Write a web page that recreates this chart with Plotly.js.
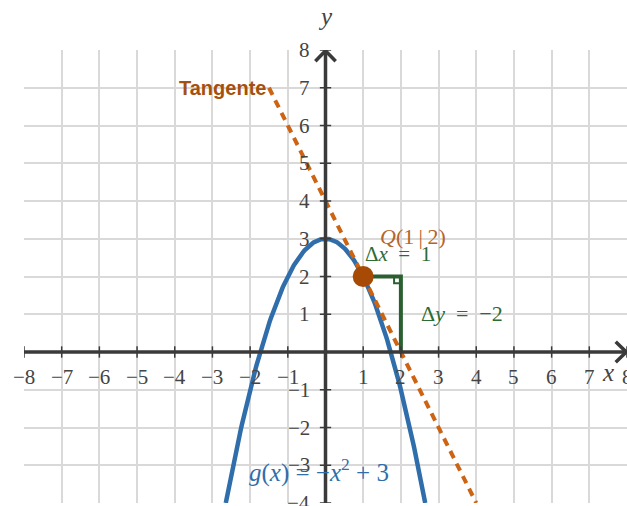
<!DOCTYPE html>
<html><head><meta charset="utf-8">
<script src="https://cdn.plot.ly/plotly-3.0.1.min.js"></script>
<style>body{margin:0;background:#fff}#c{width:627px;height:506px}</style>
</head><body><div id="c"></div>
<script>
// Data
const xTicks = [-8,-7,-6,-5,-4,-3,-2,-1,1,2,3,4,5,6,7,8];
const yTicks = [-4,-3,-2,-1,1,2,3,4,5,6,7,8];
const parabolaX = [];
const parabolaY = [];
// g(x) = -x^2 + 3 sampled on its drawn domain (function curve, not data series)
const gA = -1, gC = 3, gXmin = -Math.sqrt(7), gXmax = Math.sqrt(7);
for (let i = 0; i <= 200; i++) { const x = gXmin + (gXmax - gXmin) * i / 200; parabolaX.push(x); parabolaY.push(gA*x*x + gC); }
const tangentX = [-1.5, 4];
const tangentY = [7, -4];
const pointQ = {x: [1], y: [2]};
const triX = [1, 2, 2];
const triY = [2, 2, 0];

const serif = "Liberation Serif, DejaVu Serif, serif";
const tickCol = "#444";

const traces = [
  {x: parabolaX, y: parabolaY, mode: 'lines', line: {color: '#2f6eab', width: 4.5}, hoverinfo: 'skip'},
  {x: tangentX, y: tangentY, mode: 'lines', line: {color: '#cc6414', width: 4, dash: '8px,6px'}, hoverinfo: 'skip'},
  {x: triX, y: triY, mode: 'lines', line: {color: '#2b5f30', width: 4}, hoverinfo: 'skip'},
  {x: pointQ.x, y: pointQ.y, mode: 'markers', marker: {color: '#a64a05', size: 21}, hoverinfo: 'skip'}
];

const ann = [];
xTicks.forEach(v => ann.push({x: v, y: 0, xref: 'x', yref: 'y', text: v < 0 ? '\u2212' + (-v) : String(v),
  showarrow: false, yshift: -25, font: {family: serif, size: 21, color: tickCol}}));
yTicks.forEach(v => ann.push({x: 0, y: v, xref: 'x', yref: 'y', text: v < 0 ? '\u2212' + (-v) : String(v),
  showarrow: false, xanchor: 'right', xshift: -14, font: {family: serif, size: 21, color: tickCol}}));
ann.push({x: 7.5, y: 0, text: '<i>x</i>', showarrow: false, yshift: -20, font: {family: serif, size: 25, color: '#444'}});
ann.push({x: 0, y: 8, text: '<i>y</i>', showarrow: false, yshift: 34, font: {family: serif, size: 25, color: '#444'}});
ann.push({x: -1.53, y: 7, text: '<b>Tangente</b>', showarrow: false, xanchor: 'right', font: {family: 'Liberation Sans, Arial, sans-serif', size: 20, color: '#a5500f'}});
ann.push({x: 2.32, y: 3.07, text: '<i>Q</i>(1\u2009|\u20092)', showarrow: false, font: {family: serif, size: 22, color: '#b5652a'}});
ann.push({x: 1.92, y: 2.6, text: '\u0394<i>x</i>\u2002=\u20021', showarrow: false, font: {family: serif, size: 21, color: '#2b6b34'}});
ann.push({x: 3.62, y: 1.03, text: '\u0394<i>y</i>\u2002=\u2002\u22122', showarrow: false, font: {family: serif, size: 22, color: '#2b6b34'}});
ann.push({x: -0.18, y: -3.13, text: '<i>g</i>(<i>x</i>) = \u2212<i>x</i><sup>2</sup> + 3', showarrow: false, font: {family: serif, size: 25, color: '#2f6eab'}});

const shapes = [
  {type: 'line', xref: 'x', yref: 'y', x0: -8, y0: 0, x1: 8, y1: 0, line: {color: '#3a3a3a', width: 3.5}},
  {type: 'line', xref: 'x', yref: 'y', x0: 0, y0: -4, x1: 0, y1: 8, line: {color: '#3a3a3a', width: 3.5}},
  {type: 'path', xref: 'x', yref: 'y', path: 'M -0.27,7.7 L 0,7.98 L 0.27,7.7', line: {color: '#3a3a3a', width: 3.5}},
  {type: 'path', xref: 'x', yref: 'y', path: 'M 7.7,0.27 L 7.98,0 L 7.7,-0.27', line: {color: '#3a3a3a', width: 3.5}},
  {type: 'path', xref: 'x', yref: 'y', path: 'M 1.82,2 L 1.82,1.82 L 2,1.82', line: {color: '#2b5f30', width: 2}}
];
yTicks.forEach(v => shapes.push({type: 'line', xref: 'x', yref: 'y', x0: -0.15, x1: 0.15, y0: v, y1: v, line: {color: '#3a3a3a', width: 1.5}}));
xTicks.forEach(v => shapes.push({type: 'line', xref: 'x', yref: 'y', x0: v, x1: v, y0: -0.15, y1: 0.15, line: {color: '#3a3a3a', width: 1.5}}));

const layout = {
  width: 627, height: 506,
  margin: {l: 24, r: 0, t: 50, b: 3},
  paper_bgcolor: '#fff', plot_bgcolor: '#fff',
  showlegend: false,
  xaxis: {range: [-8, 8], dtick: 1, tick0: 0, showgrid: true, gridcolor: '#d9d9d9', gridwidth: 2,
    zeroline: false, showticklabels: false, ticks: '', showline: false, fixedrange: true},
  yaxis: {range: [-4, 8], dtick: 1, tick0: 0, showgrid: true, gridcolor: '#d9d9d9', gridwidth: 2,
    zeroline: false, showticklabels: false, ticks: '', showline: false, fixedrange: true},
  annotations: ann,
  shapes: shapes
};
Plotly.newPlot('c', traces, layout, {staticPlot: true});
</script></body></html>
